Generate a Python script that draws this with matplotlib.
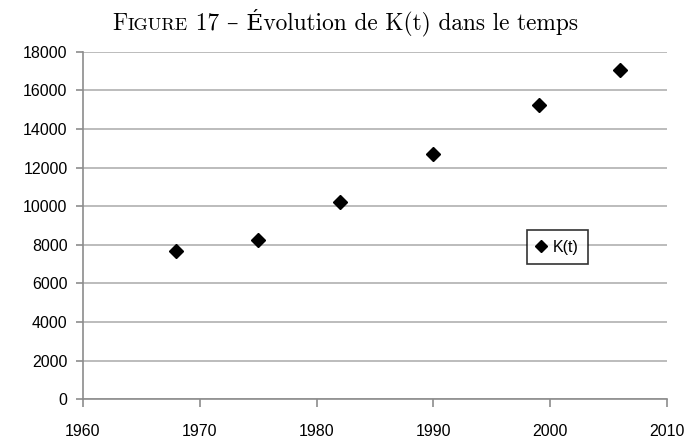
import matplotlib
matplotlib.use("Agg")
import matplotlib.pyplot as plt

# K(t) observations
years = [1968, 1975, 1982, 1990, 1999, 2006]
k_values = [7700, 8250, 10200, 12700, 15250, 17050]

x_ticks = [1960, 1970, 1980, 1990, 2000, 2010]
y_ticks = list(range(0, 18001, 2000))

fig = plt.figure(figsize=(6.9, 4.4), dpi=100)
ax = fig.add_axes([0.120, 0.093, 0.847, 0.789])

ax.plot(years, k_values, linestyle="none", marker="D", markersize=7.5,
        color="black", markeredgecolor="black", label="K(t)", zorder=3)

ax.set_xlim(1960, 2010)
ax.set_ylim(0, 18000)
ax.set_xticks(x_ticks)
ax.set_yticks(y_ticks)

tick_font = {"family": "Liberation Sans", "size": 11.5}
ax.set_xticklabels([str(t) for t in x_ticks], **tick_font)
ax.set_yticklabels([str(t) for t in y_ticks], **tick_font)

ax.yaxis.grid(True, color="#b0b0b0", linewidth=1.2)
ax.set_axisbelow(True)
for side in ["top", "right"]:
    ax.spines[side].set_visible(False)
for side in ["left", "bottom"]:
    ax.spines[side].set_color("#8c8c8c")
    ax.spines[side].set_linewidth(1.2)
ax.tick_params(axis="x", direction="out", length=6, width=1.2, color="#8c8c8c", pad=12)
ax.tick_params(axis="y", direction="out", length=5, width=1.2, color="#8c8c8c", pad=6)

leg = ax.legend(loc="center", bbox_to_anchor=(0.812, 0.438), frameon=True,
                fancybox=False, edgecolor="black", handlelength=0.6,
                handletextpad=0.4, borderpad=0.6, markerscale=0.8,
                prop={"family": "Liberation Sans", "size": 11.5})
leg.get_frame().set_linewidth(1.2)

# title: "Figure" in small caps, built from separate pieces
serif = ["cmr10", "DejaVu Serif"]
pieces = [("F", 16.8), ("IGURE", 13.1), (" 17 – Évolution de K(t) dans le temps", 16.8)]
fig.canvas.draw()
renderer = fig.canvas.get_renderer()
texts = []
for s, size in pieces:
    t = fig.text(0, 0.932, s, fontsize=size, family=serif, va="baseline", ha="left")
    texts.append(t)
widths = [t.get_window_extent(renderer).width for t in texts]
total = sum(widths)
x0 = (fig.bbox.width - total) / 2
for t, w in zip(texts, widths):
    t.set_x(x0 / fig.bbox.width)
    x0 += w

fig.savefig("out.png", dpi=100)
